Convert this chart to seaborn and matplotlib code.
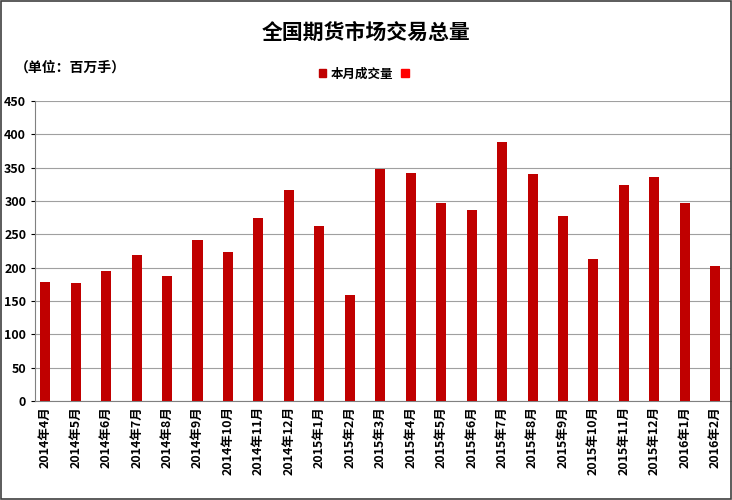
import matplotlib
matplotlib.use('Agg')
import matplotlib.pyplot as plt
import seaborn as sns
import pandas as pnd
from matplotlib.patches import Patch

plt.rcParams['font.family'] = ['Noto Sans CJK SC', 'DejaVu Sans']

months = ['2014年4月', '2014年5月', '2014年6月', '2014年7月', '2014年8月', '2014年9月',
          '2014年10月', '2014年11月', '2014年12月', '2015年1月', '2015年2月', '2015年3月',
          '2015年4月', '2015年5月', '2015年6月', '2015年7月', '2015年8月', '2015年9月',
          '2015年10月', '2015年11月', '2015年12月', '2016年1月', '2016年2月']
volume = [178, 177, 195, 219, 188, 242, 224, 274, 316, 262, 159, 348,
          342, 297, 286, 389, 341, 277, 213, 324, 336, 297, 202]
yticks = list(range(0, 451, 50))

df = pnd.DataFrame({'month': months, 'volume': volume})

fig = plt.figure(figsize=(7.32, 5.0), dpi=100)
ax = fig.add_axes([0.048, 0.198, 0.95, 0.6])
sns.barplot(data=df, x='month', y='volume', color='#C00000', width=0.33,
            saturation=1, ax=ax, zorder=3)
ax.set_ylim(0, 450)
ax.set_yticks(yticks)
ax.grid(axis='y', color='#A0A0A0', linewidth=0.8, zorder=0)
ax.set_xlabel('')
ax.set_ylabel('')
ax.tick_params(axis='x', rotation=90, labelsize=9, length=0)
ax.tick_params(axis='y', labelsize=9, length=3)
for lab in ax.get_yticklabels() + ax.get_xticklabels():
    lab.set_fontweight('bold')
for s in ['top', 'right']:
    ax.spines[s].set_visible(False)
ax.spines['left'].set_color('#808080')
ax.spines['bottom'].set_color('#808080')
ax.set_xlim(-0.33, len(months) - 0.5)

fig.text(0.5, 0.935, '全国期货市场交易总量', ha='center', va='center',
         fontsize=15, fontweight='bold')
fig.text(0.02, 0.865, '（单位：百万手）', ha='left', va='center',
         fontsize=10, fontweight='bold')
handles = [Patch(color='#C00000', label='本月成交量'), Patch(color='#FF0000', label='')]
leg = fig.legend(handles=handles, loc='center', bbox_to_anchor=(0.5, 0.852), ncol=2,
                 frameon=False, fontsize=9, handlelength=0.6, handleheight=0.6,
                 columnspacing=0.6, handletextpad=0.4)
for t in leg.get_texts():
    t.set_fontweight('bold')

border = plt.Rectangle((0.002, 0.002), 0.996, 0.996, transform=fig.transFigure,
                       fill=False, edgecolor='#404040', linewidth=1.2)
fig.patches.append(border)
fig.savefig('out.png', dpi=100)
